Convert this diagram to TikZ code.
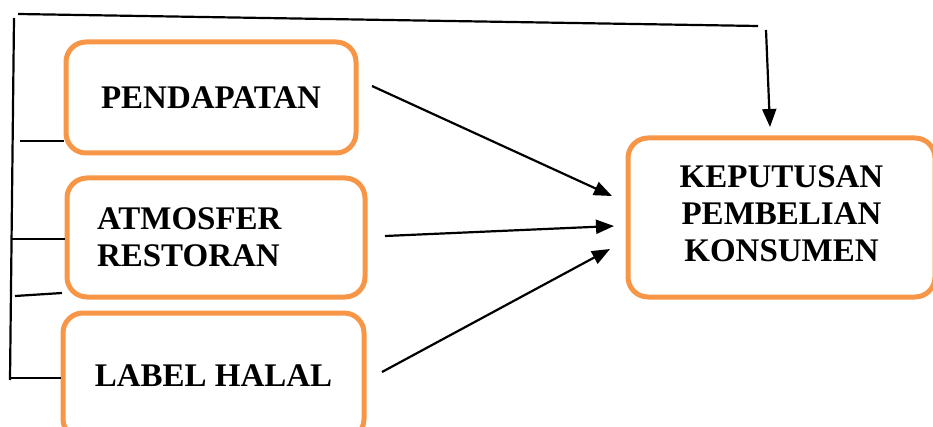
\documentclass[tikz,border=0pt]{standalone}
\usepackage{fontspec}
\setmainfont{Liberation Serif}
\usetikzlibrary{arrows.meta}
\definecolor{oranye}{HTML}{F79646}
\begin{document}
\begin{tikzpicture}[x=1pt,y=-1pt,
    kotak/.style={draw=oranye,line width=5pt,rounded corners=20pt,
      font=\fontsize{33}{37}\selectfont\bfseries},
    garis/.style={line width=2.2pt},
    panah/.style={line width=2.2pt,-{Triangle[length=18pt,width=14pt]}}]
  \useasboundingbox (0,0) rectangle (933,427);

  \node[kotak,minimum width=290pt,minimum height=111pt] (pend) at (211,97.5) {PENDAPATAN};
  \node[kotak,minimum width=298pt,minimum height=119pt,text width=238pt,align=left] (atm) at (216,237.5) {ATMOSFER\\RESTORAN};
  \node[kotak,minimum width=301pt,minimum height=126pt] (halal) at (213.5,376) {LABEL HALAL};
  \node[kotak,minimum width=307pt,minimum height=159pt,align=center,text depth=8pt] (kep) at (781.5,217.5) {KEPUTUSAN\\PEMBELIAN\\KONSUMEN};

  % garis atas dan garis kiri
  \coordinate (ka) at (18,14);
  \coordinate (kb) at (758,26);
  \coordinate (ta) at (766,30);
  \coordinate (tb) at (770,127);
  \coordinate (la) at (14,18);
  \coordinate (lb) at (10,380);
  \draw[garis] (ka) -- (kb);
  \draw[panah] (ta) -- (tb);
  \draw[garis] (la) -- (lb);

  \coordinate (s1) at (20,141);
  \coordinate (s2) at (12,239);
  \coordinate (s3) at (15,296);
  \coordinate (s3b) at (62,293);
  \coordinate (s4) at (10,378);
  \draw[garis] (s1) -- (s1 -| pend.west);
  \draw[garis] (s2) -- (s2 -| atm.west);
  \draw[garis] (s3) -- (s3b);
  \draw[garis] (s4) -- (s4 -| halal.west);

  % panah ke keputusan
  \coordinate (p1) at (372,86);
  \coordinate (p2) at (385,236);
  \coordinate (p3) at (382,372);
  \coordinate (q1) at (612,196);
  \coordinate (q2) at (614,226);
  \coordinate (q3) at (610,249);
  \draw[panah] (p1) -- (q1);
  \draw[panah] (p2) -- (q2);
  \draw[panah] (p3) -- (q3);
\end{tikzpicture}
\end{document}
